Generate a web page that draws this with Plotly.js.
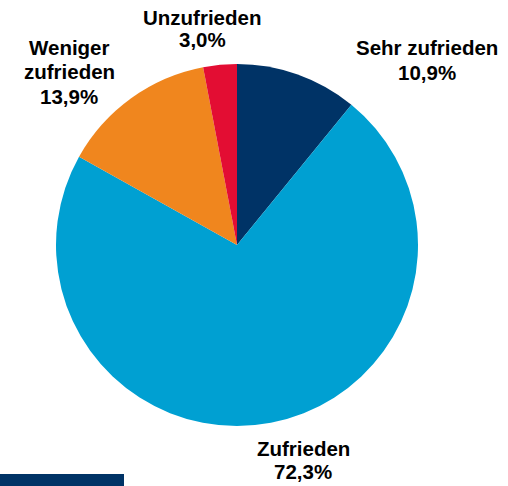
<!DOCTYPE html>
<html>
<head>
<meta charset="utf-8">
<script src="https://cdn.plot.ly/plotly-3.0.1.min.js"></script>
<style>html,body{margin:0;padding:0;background:#fff;}#chart{width:508px;height:486px;}</style>
</head>
<body>
<div id="chart"></div>
<script>
const categories = ["Sehr zufrieden", "Zufrieden", "Weniger zufrieden", "Unzufrieden"];
const labelLines = [["Sehr zufrieden"], ["Zufrieden"], ["Weniger", "zufrieden"], ["Unzufrieden"]];
const values = [10.9, 72.3, 13.9, 3.0];
const colors = ["#003366", "#00A0D2", "#F0861E", "#E30D33"];

const W = 508, H = 486;
const cx = 237, cy = 245, r = 181;
// label anchor: center x, y of each line (pixels)
const labelX = [427, 303, 69, 202];
const labelY = [[47, 72], [448, 471], [47, 71, 96], [17, 40]];

const fmt = v => v.toFixed(1).replace('.', ',') + '%';

const annotations = [];
categories.forEach((c, i) => {
  const lines = labelLines[i].concat([fmt(values[i])]);
  lines.forEach((t, j) => {
    annotations.push({
      text: '<b>' + t + '</b>',
      xref: 'paper', yref: 'paper',
      x: labelX[i] / W, y: 1 - labelY[i][j] / H,
      xanchor: 'center', yanchor: 'middle',
      showarrow: false, align: 'center',
      font: {family: 'Liberation Sans, Arial, sans-serif', size: 20.5, color: '#000'}
    });
  });
});

const data = [{
  type: 'pie',
  labels: categories,
  values: values,
  marker: {colors: colors, line: {width: 0}},
  sort: false,
  direction: 'clockwise',
  rotation: 0,
  textinfo: 'none',
  hoverinfo: 'label+percent',
  domain: {x: [(cx - r) / W, (cx + r) / W], y: [1 - (cy + r) / H, 1 - (cy - r) / H]}
}];

const layout = {
  width: W, height: H,
  margin: {l: 0, r: 0, t: 0, b: 0},
  showlegend: false,
  paper_bgcolor: '#fff',
  annotations: annotations,
  shapes: [{type: 'rect', xref: 'paper', yref: 'paper', x0: 0, x1: 124 / W, y0: 0, y1: 12 / H,
            fillcolor: '#003366', line: {width: 0}}]
};

Plotly.newPlot('chart', data, layout, {displayModeBar: false, staticPlot: true});
</script>
</body>
</html>
